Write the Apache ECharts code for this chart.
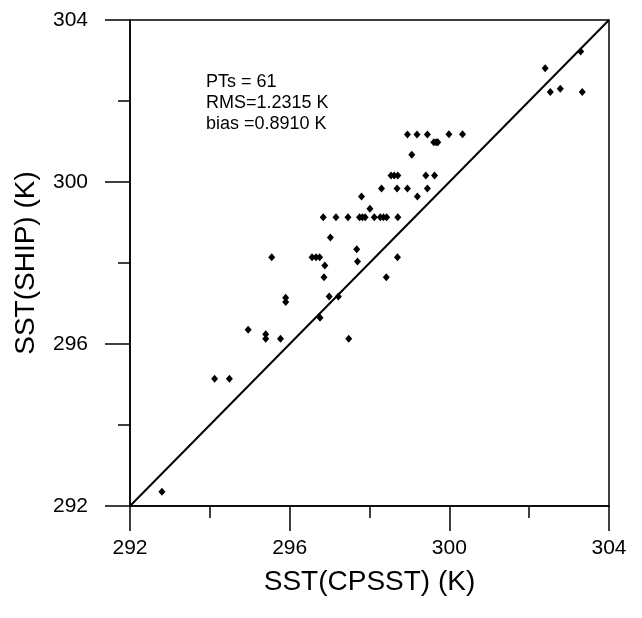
<!DOCTYPE html>
<html><head><meta charset="utf-8">
<script src="https://cdn.jsdelivr.net/npm/echarts@6/dist/echarts.min.js"></script>
<style>html,body{margin:0;padding:0;background:#fff}#c{width:642px;height:618px}</style>
</head><body><div id="c"></div>
<script>
const xTicks = [292, 296, 300, 304];
const yTicks = [292, 296, 300, 304];
const cpsst = [303.29,302.40,302.53,302.78,303.33,298.95,299.19,299.45,299.99,300.33,
  299.61,299.71,299.06,298.54,298.71,299.41,299.63,298.30,298.69,298.95,
  299.45,297.80,299.20,298.01,296.84,297.16,297.46,297.75,297.89,298.12,
  298.27,298.43,298.71,297.02,297.68,297.70,298.70,295.55,296.56,296.75,
  296.88,296.86,298.42,295.90,295.90,296.99,297.22,296.76,294.96,295.40,
  295.40,295.77,297.48,294.12,294.49,292.80,297.82,298.35,299.67,298.62,296.66];
const ship = [303.22,302.81,302.22,302.30,302.22,301.17,301.17,301.17,301.18,301.18,
  300.98,300.98,300.67,300.16,300.16,300.16,300.16,299.84,299.84,299.84,
  299.84,299.64,299.64,299.34,299.13,299.13,299.13,299.13,299.13,299.13,
  299.13,299.13,299.13,298.63,298.34,298.04,298.14,298.14,298.14,298.14,
  297.94,297.65,297.65,297.14,297.04,297.17,297.17,296.65,296.35,296.24,
  296.13,296.13,296.13,295.14,295.14,292.35,299.13,299.13,300.98,300.16,298.14];
const diagX = [292, 304];
const diagY = [292, 304];
const statsText = ['PTs = 61', 'RMS=1.2315 K', 'bias =0.8910 K'];

const font = '"Liberation Sans", Arial, sans-serif';
const chart = echarts.init(document.getElementById('c'), null, {renderer:'canvas'});
const pts = cpsst.map((v,i)=>[v, ship[i]]);
const diag = diagX.map((v,i)=>[v, diagY[i]]);
const axisCommon = {
  type:'value', min:292, max:304, interval:4,
  nameLocation:'middle', nameMoveOverlap:false,
  nameTextStyle:{fontFamily:font, fontSize:28, color:'#000'},
  axisLine:{show:true, onZero:false, lineStyle:{color:'#000', width:1.5}},
  axisTick:{show:true, inside:false, length:25, lineStyle:{color:'#000', width:1.5}},
  minorTick:{show:true, splitNumber:2, length:12, lineStyle:{color:'#000', width:1.5}},
  splitLine:{show:false},
  axisLabel:{fontFamily:font, fontSize:21, color:'#000', showMinLabel:true, showMaxLabel:true,
    formatter: v => String(v)}
};
chart.setOption({
  animation:false,
  backgroundColor:'#fff',
  grid:{left:130, right:33, top:20, bottom:112, show:true, borderColor:'#000', borderWidth:1.5, backgroundColor:'transparent'},
  xAxis:Object.assign({}, axisCommon, {name:'SST(CPSST) (K)', nameGap:62,
    axisLabel:Object.assign({}, axisCommon.axisLabel, {margin:32})}),
  yAxis:Object.assign({}, axisCommon, {name:'SST(SHIP) (K)', nameGap:90,
    axisLabel:Object.assign({}, axisCommon.axisLabel, {margin:42})}),
  graphic:[{type:'text', left:206, top:72, style:{text:statsText.join('\n'), font:'18px '+font, fill:'#000', lineHeight:21}}],
  series:[
    {type:'line', data:diag, showSymbol:false, symbol:'none', lineStyle:{color:'#000', width:2}, silent:true, z:2},
    {type:'scatter', data:pts, symbol:'diamond', symbolSize:[7,8], itemStyle:{color:'#000', opacity:1}, z:3}
  ]
});
</script></body></html>
